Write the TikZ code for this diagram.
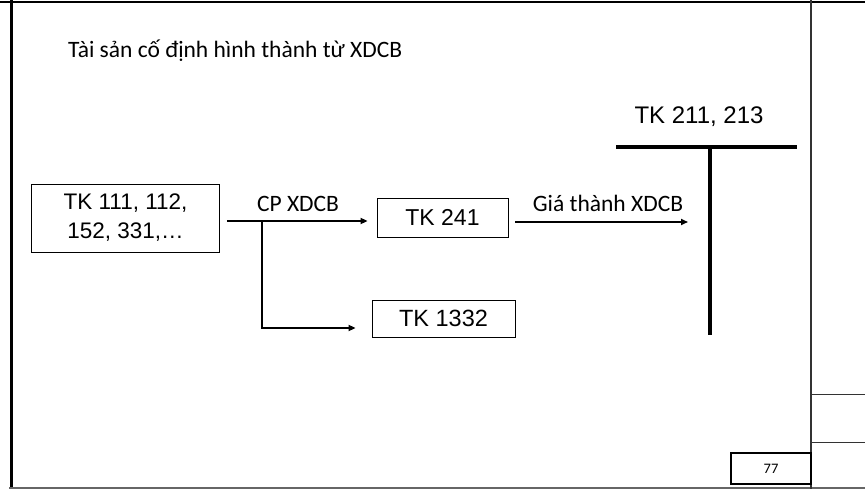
\documentclass[tikz,border=0pt]{standalone}
\usepackage{fontspec}
\setmainfont{Liberation Sans}
\newfontfamily\carlitofont{Carlito}
\usetikzlibrary{arrows.meta}
\begin{document}
\begin{tikzpicture}[x=1pt,y=-1pt,
  acct/.style={draw, line width=0.8pt, inner sep=0pt, align=center},
  arr/.style={line width=1.6pt, -{Triangle[length=7pt,width=6pt]}},
  lbl/.style={font=\carlitofont\fontsize{23.5}{28}\selectfont, inner sep=0pt}]
\useasboundingbox (0,0) rectangle (865,489);
% frame
\draw[line width=2.5pt] (0,2) -- (865,2);
\draw[line width=3pt] (11,0) -- (11,489);
\draw[line width=1.2pt, black!60] (9,488) -- (865,488);
\draw[line width=1.2pt, black!80] (811,0) -- (811,489);
\draw[line width=1pt, black!80] (811,394) -- (865,394);
\draw[line width=1pt, black!80] (811,442) -- (865,442);
\node[draw, line width=1.5pt, minimum width=80pt, minimum height=31pt, inner sep=0pt, font=\carlitofont\fontsize{14.5}{17}\selectfont] (pg) at (771,468.5) {77};
% title
\node[anchor=base west, inner sep=0pt, font=\carlitofont\fontsize{23.5}{28}\selectfont] (title) at (68,58) {Tài sản cố định hình thành từ XDCB};
% boxes
\node[acct, minimum width=188pt, minimum height=68pt, font=\fontsize{22.5}{29}\selectfont] (b1) at (125.5,218) {TK 111, 112,\\152, 331,\dots};
\node[acct, minimum width=131pt, minimum height=39pt, font=\fontsize{23}{28}\selectfont] (b241) at (442.5,217.5) {TK 241};
\node[acct, minimum width=143pt, minimum height=37pt, font=\fontsize{23.5}{28}\selectfont] (b1332) at (443.5,318.5) {TK 1332};
% T account
\coordinate (tl) at (616,147);
\coordinate (tr) at (797,147);
\coordinate (tt) at (710,147);
\coordinate (tb) at (710,335);
\draw[line width=4pt] (tl) -- (tr);
\draw[line width=4pt] (tt) -- (tb);
\node[font=\fontsize{24}{29}\selectfont, inner sep=0pt] (tlab) at (699,117) {TK 211, 213};
% connectors
\coordinate (s1) at ([xshift=7pt]b1.east |- 0,221);
\coordinate (j) at (262,221);
\coordinate (jb) at (262,328);
\draw[arr] (s1) -- ([xshift=-9pt]b241.west |- s1);
\draw[arr] (j) -- (jb) -- ([xshift=-16pt]b1332.west |- jb);
\node[lbl] (l1) at (298,204) {CP XDCB};
\coordinate (s2) at ([xshift=7pt]b241.east |- 0,222);
\coordinate (e2) at (688,222);
\draw[arr] (s2) -- (e2);
\node[lbl] (l2) at (608,203) {Giá thành XDCB};
\end{tikzpicture}
\end{document}
